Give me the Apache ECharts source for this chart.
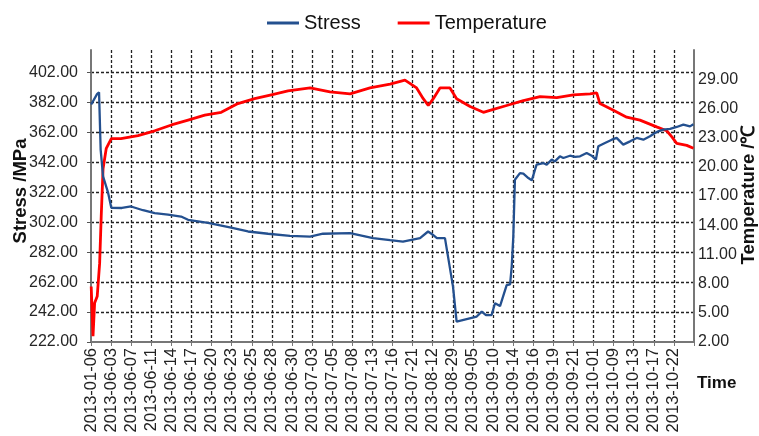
<!DOCTYPE html>
<html>
<head>
<meta charset="utf-8">
<script src="https://cdn.jsdelivr.net/npm/echarts@6/dist/echarts.min.js"></script>
<style>html,body{margin:0;padding:0;background:#fff}#c{width:759px;height:436px}</style>
</head>
<body>
<div id="c"></div>
<script>
// tick labels on the time axis (one per major grid position)
var timeLabels = ['2013-01-06','2013-06-03','2013-06-07','2013-06-11','2013-06-14','2013-06-17','2013-06-20','2013-06-23','2013-06-25','2013-06-28','2013-06-30','2013-07-03','2013-07-05','2013-07-08','2013-07-13','2013-07-16','2013-07-21','2013-08-12','2013-08-29','2013-09-05','2013-09-10','2013-09-14','2013-09-16','2013-09-19','2013-09-21','2013-10-01','2013-10-09','2013-10-13','2013-10-17','2013-10-22'];

// axis titles
var leftTitle = 'Stress /MPa';
var rightTitle = 'Temperature /\u2103';

// Stress (MPa): position along time axis (label index units) and value
var stressPos = [0.01,0.30,0.40,0.48,0.60,0.85,1.01,1.09,1.54,1.99,2.59,3.17,3.83,4.48,4.83,5.82,6.97,7.81,8.81,9.90,10.90,11.54,12.89,14.03,14.88,15.52,16.37,16.77,16.97,17.21,17.61,18.01,18.19,19.19,19.44,19.65,19.93,20.10,20.35,20.68,20.85,20.93,21.01,21.09,21.34,21.51,21.76,21.93,22.09,22.17,22.50,22.67,22.92,23.08,23.33,23.50,23.83,24.08,24.33,24.66,24.91,25.12,25.24,25.57,25.91,26.15,26.48,26.82,27.15,27.48,27.81,28.06,28.22,28.47,28.81,29.14,29.47,29.80,29.97];
var stressVal = [380.6,387.5,388.8,350.5,332.6,321.7,311.6,311.0,311.5,312.5,310.0,308.0,307.0,305.8,303.6,301.6,298.3,295.8,294.3,292.9,292.4,294.3,294.7,291.4,290.0,289.1,291.4,295.8,294.0,291.4,291.4,259.0,235.6,239.0,242.3,240.0,240.0,247.9,246.0,260.0,260.5,272.4,292.4,330.4,334.8,334.4,331.5,329.9,337.1,340.4,341.5,340.4,343.8,342.6,346.0,344.9,346.4,345.6,346.0,348.2,346.4,343.8,352.7,354.9,357.1,358.3,353.8,356.0,358.3,357.1,359.4,361.6,362.7,363.8,364.3,365.6,367.2,366.0,367.4];

// Temperature (°C)
var tempPos = [0.01,0.10,0.18,0.31,0.43,0.51,0.60,0.76,1.01,1.49,2.34,3.17,4.00,4.83,5.66,6.48,7.31,8.14,8.97,9.80,10.90,11.89,12.89,13.88,14.88,15.62,16.20,16.53,16.78,17.03,17.36,17.86,18.19,18.86,19.52,19.85,20.68,21.51,22.34,23.17,24.00,24.83,25.16,25.32,25.99,26.65,27.31,28.14,28.64,28.89,29.14,29.64,29.97];
var tempVal = [7.7,2.6,6.0,6.7,10.1,15.0,19.8,21.9,22.9,22.9,23.2,23.7,24.3,24.8,25.3,25.6,26.5,27.0,27.4,27.8,28.1,27.7,27.5,28.1,28.5,28.9,28.1,27.0,26.3,27.0,28.1,28.1,27.0,26.2,25.6,25.8,26.3,26.8,27.2,27.1,27.4,27.5,27.6,26.5,25.8,25.1,24.8,24.1,23.7,23.1,22.4,22.2,21.9];

function pairs(xs, ys){ return xs.map(function(x,i){ return [x, ys[i]]; }); }

var font = '"Liberation Sans", Arial, sans-serif';
var gridLine = {show:true, showMinLine:false, showMaxLine:false, lineStyle:{color:'#222', width:1.3, type:[3,2]}};
var titleStyle = {fill:'#111', font:'bold 18.5px "Liberation Sans", Arial, sans-serif', textAlign:'center', textVerticalAlign:'middle'};

var chart = echarts.init(document.getElementById('c'), null, {renderer:'canvas'});
chart.setOption({
  animation:false,
  backgroundColor:'#fff',
  textStyle:{fontFamily:font},
  legend:{
    top:8, left:262, itemGap:37, itemWidth:32, itemHeight:3, icon:'rect',
    textStyle:{fontSize:20, color:'#111', fontFamily:font},
    data:['Stress','Temperature']
  },
  graphic:[
    {type:'text', x:21, y:191, rotation:Math.PI/2, style:Object.assign({text:leftTitle}, titleStyle)},
    {type:'text', x:749, y:195, rotation:Math.PI/2, style:Object.assign({text:rightTitle}, titleStyle)}
  ],
  grid:{left:91, right:65, top:50, bottom:94, containLabel:false, outerBoundsMode:'none'},
  xAxis:{
    type:'value', min:0, max:30, interval:1,
    name:'Time', nameLocation:'end', nameGap:3,
    nameTextStyle:{fontSize:17, fontWeight:'bold', color:'#111', align:'left', verticalAlign:'top', padding:[33,0,0,0]},
    axisLine:{show:true, lineStyle:{color:'#777', width:2}},
    axisTick:{show:true, length:4, lineStyle:{color:'#777'}},
    axisLabel:{rotate:90, fontSize:16.5, color:'#222', margin:6, showMaxLabel:true,
      formatter:function(v){ return timeLabels[Math.round(v)] || ''; }},
    splitLine:gridLine
  },
  yAxis:[{
    type:'value', min:222, max:417, interval:20, position:'left',
    axisLine:{show:true, lineStyle:{color:'#777', width:2}},
    axisTick:{show:true, length:4, lineStyle:{color:'#555'}},
    axisLabel:{fontSize:16, color:'#262626', margin:13, showMaxLabel:false, formatter:function(v){return v.toFixed(2);}},
    splitLine:gridLine
  },{
    type:'value', min:2, max:32, interval:3, position:'right',
    axisLine:{show:true, lineStyle:{color:'#777', width:2}},
    axisTick:{show:false},
    axisLabel:{fontSize:16, color:'#262626', margin:4, showMaxLabel:false, formatter:function(v){return v.toFixed(2);}},
    splitLine:{show:false}
  }],
  series:[{
    name:'Stress', type:'line', yAxisIndex:0, showSymbol:false, symbol:'none',
    data:pairs(stressPos, stressVal),
    lineStyle:{color:'#24508f', width:2.3}, itemStyle:{color:'#24508f'}, z:3
  },{
    name:'Temperature', type:'line', yAxisIndex:1, showSymbol:false, symbol:'none',
    data:pairs(tempPos, tempVal),
    lineStyle:{color:'#ff0000', width:2.8}, itemStyle:{color:'#ff0000'}, z:2
  }]
});
</script>
</body>
</html>
